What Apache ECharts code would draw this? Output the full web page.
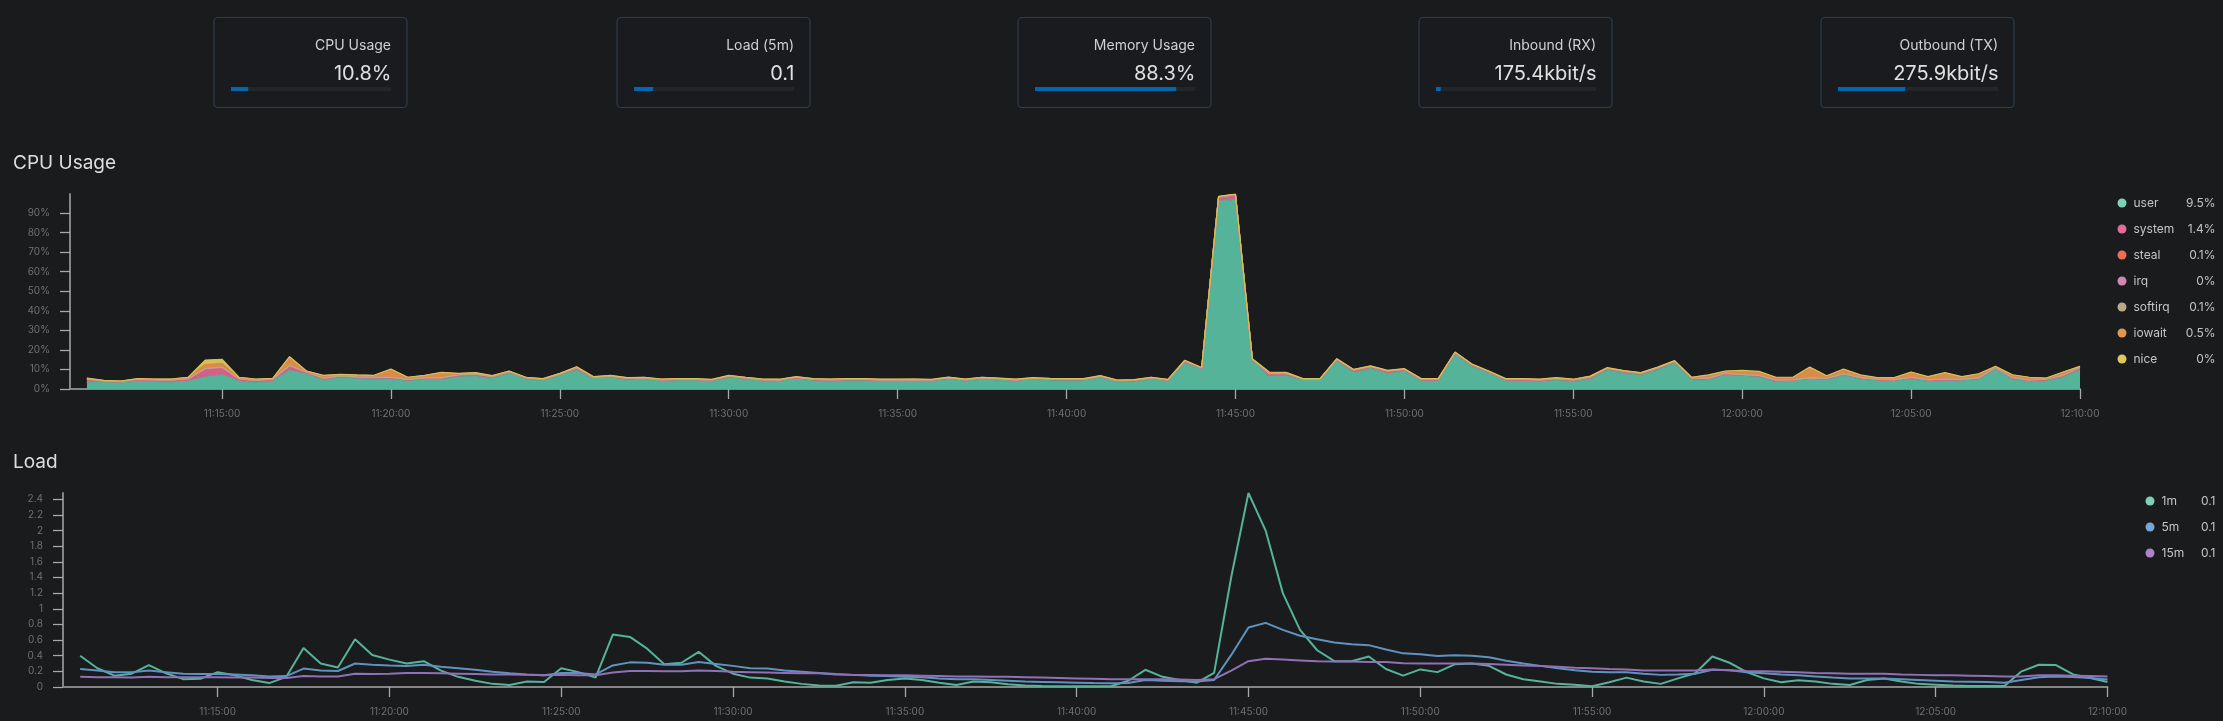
<!DOCTYPE html>
<html>
<head>
<meta charset="utf-8">
<title>Node overview</title>
<style>
  html, body { margin: 0; padding: 0; background: #191b1d; }
  #main { width: 2223px; height: 721px; }
</style>
<script src="https://cdn.jsdelivr.net/npm/echarts@6/dist/echarts.min.js"></script>
</head>
<body>
<div id="main"></div>
<script>
// stat cards
const cardTitles = ['CPU Usage', 'Load (5m)', 'Memory Usage', 'Inbound (RX)', 'Outbound (TX)'];
const cardValues = ['10.8%', '0.1', '88.3%', '175.4kbit/s', '275.9kbit/s'];
const cardFill = [0.108, 0.12, 0.883, 0.03, 0.42];

// axis ticks
const cpuTicks = [0, 10, 20, 30, 40, 50, 60, 70, 80, 90];
const loadTicks = [0, 0.2, 0.4, 0.6, 0.8, 1, 1.2, 1.4, 1.6, 1.8, 2, 2.2, 2.4];

// legend
const cpuNames = ['user', 'system', 'steal', 'irq', 'softirq', 'iowait', 'nice'];
const cpuLast = ['9.5%', '1.4%', '0.1%', '0%', '0.1%', '0.5%', '0%'];
const loadNames = ['1m', '5m', '15m'];
const loadLast = ['0.1', '0.1', '0.1'];

// cpu samples, one every 30s from 11:11:00
const userVals = [3.6,3.1,3.1,3.9,3.6,3.5,3.9,6.1,7.3,3.9,3.2,3.9,9.4,7.5,4.4,5.6,5.1,5,5.1,3.9,
  4.8,4.8,6.1,6.3,5.3,8,5,4.4,7,9.5,5.3,5.6,4.6,5,4.1,4.3,4.4,3.9,5.5,5,
  4,3.9,5.2,4.2,4,4.2,4.2,3.9,3.9,4,3.8,5,4,4.9,4.5,3.9,4.7,4.3,4.2,4.2,
  5.7,3.5,3.7,4.9,3.8,13.3,9.9,96,96.8,14.5,6.3,6.6,4.6,4.6,14.1,8.3,10.4,7.8,9,3.9,
  3.9,17.5,11.4,8,3.9,3.9,3.6,4.3,3.6,4.9,9.5,8,7,9.7,13.3,4.6,4.4,7,6.5,6,
  3.6,3.9,4.9,4.6,6.8,5,4.1,3.9,5.1,3.9,4.1,4.1,4.8,9.9,4.8,3.6,4.1,5.8,9.5];
const systemVals = [1.3,.8,.6,.9,1,1,1.2,4.2,3.7,1.2,1.1,1,2.4,1,1,.9,.9,.8,.7,.8,
  .8,.8,1,1.2,.9,.7,.5,.4,.5,1.2,.5,.8,.7,.5,.5,.5,.4,.5,1,.5,
  .6,.6,.6,.6,.6,.6,.6,.6,.6,.6,.6,.6,.6,.6,.6,.6,.6,.6,.6,.6,
  .6,.6,.6,.6,.6,.9,.6,2,2.4,.5,1.5,1.2,.3,.3,.9,1.2,.9,1.2,.9,.9,
  .9,.9,.9,.7,.9,.9,.9,.9,.9,1,.9,.9,.9,1,.7,.9,.9,.9,.8,.8,
  .8,.7,.7,.7,.8,.7,.7,.7,.7,.7,.7,.7,.7,.9,.9,.8,.8,1,1.4];
const stealVals = [.1,.1,.1,.1,.1,.1,.1,.1,.1,.1,.1,.1,.1,.1,.1,.1,.1,.1,.1,.1,
  .1,.1,.1,.1,.1,.1,.1,.1,.1,.1,.1,.1,.1,.1,.1,.1,.1,.1,.1,.1,
  .1,.1,.1,.1,.1,.1,.1,.1,.1,.1,.1,.1,.1,.1,.1,.1,.1,.1,.1,.1,
  .1,.1,.1,.1,.1,.1,.1,.1,.1,.1,.1,.1,.1,.1,.1,.1,.1,.1,.1,.1,
  .1,.1,.1,.1,.1,.1,.1,.1,.1,.1,.1,.1,.1,.1,.1,.1,.1,.1,.1,.1,
  .1,.1,.1,.1,.1,.1,.1,.1,.1,.1,.1,.1,.1,.1,.1,.1,.1,.1,.1];
const irqVals = [0,0,0,0,0,0,0,0,0,0,0,0,0,0,0,0,0,0,0,0,
  0,0,0,0,0,0,0,0,0,0,0,0,0,0,0,0,0,0,0,0,
  0,0,0,0,0,0,0,0,0,0,0,0,0,0,0,0,0,0,0,0,
  0,0,0,0,0,0,0,0,0,0,0,0,0,0,0,0,0,0,0,0,
  0,0,0,0,0,0,0,0,0,0,0,0,0,0,0,0,0,0,0,0,
  0,0,0,0,0,0,0,0,0,0,0,0,0,0,0,0,0,0,0];
const softirqVals = [.1,.1,.1,.1,.1,.1,.1,.1,.1,.1,.1,.1,.1,.1,.1,.1,.1,.1,.1,.1,
  .1,.1,.1,.1,.1,.1,.1,.1,.1,.1,.1,.1,.1,.1,.1,.1,.1,.1,.1,.1,
  .1,.1,.1,.1,.1,.1,.1,.1,.1,.1,.1,.1,.1,.1,.1,.1,.1,.1,.1,.1,
  .1,.1,.1,.1,.1,.1,.1,.1,.1,.1,.1,.1,.1,.1,.1,.1,.1,.1,.1,.1,
  .1,.1,.1,.1,.1,.1,.1,.1,.1,.1,.1,.1,.1,.1,.1,.1,.1,.1,.1,.1,
  .1,.1,.1,.1,.1,.1,.1,.1,.1,.1,.1,.1,.1,.1,.1,.1,.1,.1,.1];
const iowaitVals = [.3,.2,.1,.2,.2,.3,.6,2,1.8,.6,.4,.2,4.4,.4,1.3,.7,.9,.9,4.1,1,
  1.1,2.6,.6,.6,.3,.2,.2,.2,.2,.4,.2,.3,.2,.2,.2,.2,.2,.2,.2,.2,
  .2,.2,.2,.2,.2,.2,.2,.2,.2,.2,.2,.2,.2,.2,.2,.2,.2,.2,.2,.2,
  .2,.2,.2,.2,.2,.2,.2,.2,.2,.2,.5,.4,.1,.1,.2,.2,.2,.2,.2,.2,
  .2,.2,.2,.2,.2,.2,.2,.3,.2,.4,.2,.2,.2,.2,.2,.2,1.5,.9,1.7,1.7,
  1.2,1,5.2,1.1,2.2,1.1,.6,.8,2.5,1.3,3.2,1.1,1.9,.4,1.2,1.2,.3,1.5,.5];
const niceVals = [.2,.1,.1,.1,.1,.1,.1,2.3,2.2,.1,.2,.1,.1,.1,.1,.1,.1,.1,.1,.1,
  .1,.1,.1,.1,.1,.1,.1,.1,.1,.1,.1,.1,.1,.1,.1,.1,.1,.1,.1,.1,
  .1,.1,.1,.1,.1,.1,.1,.1,.1,.1,.1,.1,.1,.1,.1,.1,.1,.1,.1,.1,
  .1,.1,.1,.1,.1,.1,.1,.1,.1,.1,.2,.1,.1,.1,.1,.1,.1,.1,.1,.1,
  .1,.1,.1,.1,.1,.1,.1,.1,.1,.1,.1,.1,.1,.1,.1,.1,.2,.2,.3,.3,
  .2,.2,.2,.2,.2,.2,.2,.2,.2,.2,.2,.2,.2,.2,.2,.2,.2,.2,0];

// load samples, same timeline
const load1 = [.40,.24,.145,.17,.28,.175,.10,.105,.19,.15,.09,.05,.13,.50,.30,.25,.61,.41,.35,.30,
  .33,.21,.13,.08,.04,.025,.07,.065,.24,.19,.12,.67,.64,.49,.29,.31,.45,.27,.17,.12,
  .11,.07,.04,.02,.015,.06,.055,.09,.11,.09,.055,.025,.07,.06,.035,.02,.012,.01,.01,.01,
  .01,.08,.22,.13,.09,.055,.18,1.41,2.48,2.0,1.2,.73,.47,.33,.33,.39,.23,.145,.225,.19,
  .29,.30,.27,.16,.10,.07,.04,.03,.01,.06,.12,.07,.04,.11,.175,.39,.31,.19,.11,.06,
  .085,.07,.04,.025,.09,.11,.07,.04,.03,.02,.013,.013,.012,.20,.285,.28,.16,.115,.065];
const load5 = [.23,.21,.19,.19,.21,.19,.17,.165,.165,.16,.15,.135,.14,.235,.21,.205,.30,.285,.275,.27,
  .285,.26,.24,.22,.195,.175,.16,.15,.18,.18,.16,.275,.315,.31,.285,.285,.32,.295,.27,.24,
  .235,.21,.195,.18,.165,.155,.145,.14,.13,.125,.11,.10,.10,.09,.08,.07,.065,.06,.055,.05,
  .047,.05,.09,.08,.075,.07,.09,.41,.76,.82,.73,.655,.61,.57,.545,.535,.48,.43,.42,.395,
  .405,.40,.38,.335,.30,.27,.24,.215,.195,.19,.19,.17,.155,.16,.17,.22,.215,.19,.175,.16,
  .15,.135,.12,.11,.11,.11,.10,.09,.08,.07,.068,.064,.055,.09,.125,.135,.128,.115,.095];
const load15 = [.13,.125,.125,.12,.13,.125,.125,.125,.125,.12,.12,.115,.115,.14,.135,.135,.17,.165,.17,.18,
  .18,.175,.17,.165,.16,.16,.155,.15,.155,.15,.15,.185,.205,.205,.20,.20,.21,.205,.195,.19,
  .185,.18,.175,.175,.16,.155,.155,.15,.15,.145,.14,.135,.135,.13,.13,.125,.12,.115,.11,.105,
  .10,.10,.10,.10,.095,.09,.10,.21,.33,.36,.35,.34,.33,.325,.325,.32,.32,.305,.30,.30,
  .30,.30,.295,.285,.275,.27,.26,.245,.24,.23,.225,.21,.21,.21,.21,.225,.215,.205,.20,.195,
  .19,.18,.175,.17,.17,.17,.16,.155,.15,.15,.145,.14,.135,.135,.15,.15,.145,.14,.135];

// colours
const cpuColors = ['#54b399', '#d36086', '#e7664c', '#ca8eae', '#b9a888', '#da8b45', '#d6bf57'];
const cpuDots = ['#7dd1b6', '#e06d99', '#ee6d53', '#d486b0', '#baa88c', '#e3964f', '#e0c85f'];
const loadColors = ['#54b399', '#6092c0', '#9170b8'];
const loadDots = ['#7dd1b6', '#75a6d6', '#a984cc'];

// time axis: an empty slot at 11:10:30, then one label every 30s up to 12:10:00
const times = [];
for (let m = 10; m <= 70; m++) {
    for (const s of ['00', '30']) {
        const h = m >= 60 ? 12 : 11;
        const t = h + ':' + String(m % 60).padStart(2, '0') + ':' + s;
        if ((m === 10 && s === '00') || (m === 70 && s === '30')) continue;
        times.push(t);
    }
}

const FONT = 'Inter, "Noto Sans", sans-serif';
const isFiveMin = (i, v) => v.endsWith(':00') && Number(v.split(':')[1]) % 5 === 0;

function xAxis(gridIndex) {
    return {
        type: 'category',
        gridIndex: gridIndex,
        data: times,
        boundaryGap: false,
        axisLine: { lineStyle: { color: '#858585', width: 2 } },
        axisTick: { interval: isFiveMin, length: 10, lineStyle: { color: '#a8a8a8', width: 1.3 } },
        axisLabel: { interval: isFiveMin, margin: 20, color: '#6f7073', fontSize: 10, fontFamily: FONT, hideOverlap: false },
        splitLine: { show: false }
    };
}

function yAxis(gridIndex, ticks, format) {
    return {
        type: 'value',
        gridIndex: gridIndex,
        min: 0,
        max: 'dataMax',
        axisLine: { show: true, lineStyle: { color: '#858585', width: 2 } },
        axisTick: { show: true, customValues: ticks, length: 10, lineStyle: { color: '#a8a8a8', width: 1.3 } },
        axisLabel: { customValues: ticks, margin: 20, color: '#6f7073', fontSize: 10, fontFamily: FONT, formatter: format },
        splitLine: { show: false }
    };
}

function legend(names, dots, last, left, top, nameWidth, valueWidth) {
    return {
        orient: 'vertical',
        left: left,
        top: top,
        itemWidth: 13,
        itemHeight: 9,
        itemGap: 14,
        icon: 'circle',
        selectedMode: false,
        data: names.map((n, i) => ({ name: n, itemStyle: { color: dots[i] } })),
        formatter: n => '{n|' + n + '}{v|' + last[names.indexOf(n)] + '}',
        textStyle: {
            rich: {
                n: { width: nameWidth, align: 'left', color: '#c4c4c4', fontSize: 12, lineHeight: 13, fontFamily: FONT },
                v: { width: valueWidth, align: 'right', color: '#c4c4c4', fontSize: 12, lineHeight: 13, fontFamily: FONT }
            }
        }
    };
}

// cards are drawn with graphic elements
const cardLeft = [214, 617, 1018, 1419, 1821];
const cardGraphics = [];
cardTitles.forEach((title, i) => {
    const x = cardLeft[i];
    cardGraphics.push({
        type: 'rect', shape: { x: x, y: 17.5, width: 193, height: 90, r: 4 },
        style: { fill: '#191b1e', stroke: '#303c4d', lineWidth: 1.2 }
    });
    cardGraphics.push({
        type: 'rect', shape: { x: x + 17, y: 87, width: 160, height: 4 },
        style: { fill: '#232527' }
    });
    cardGraphics.push({
        type: 'rect', shape: { x: x + 17, y: 87, width: 160 * cardFill[i], height: 4 },
        style: { fill: '#0067b2' }
    });
    cardGraphics.push({
        type: 'text', x: x + 177, y: 46,
        style: { text: title, fill: '#d0d0d0', font: '14px ' + FONT, textAlign: 'right', textVerticalAlign: 'middle' }
    });
    cardGraphics.push({
        type: 'text', x: x + 177.5, y: 73.5,
        style: { text: cardValues[i], fill: '#e0e0e0', font: '20px ' + FONT, textAlign: 'right', textVerticalAlign: 'middle' }
    });
});

const cpuData = [userVals, systemVals, stealVals, irqVals, softirqVals, iowaitVals, niceVals];
const cpuSeries = cpuNames.map((name, i) => ({
    name: name,
    type: 'line',
    xAxisIndex: 0,
    yAxisIndex: 0,
    stack: 'cpu',
    showSymbol: false,
    data: [null].concat(cpuData[i]),
    lineStyle: { color: cpuColors[i], width: 1.2 },
    itemStyle: { color: cpuColors[i] },
    areaStyle: { color: cpuColors[i], opacity: 1 }
}));

const loadData = [load1, load5, load15];
const loadSeries = loadNames.map((name, i) => ({
    name: name,
    type: 'line',
    xAxisIndex: 1,
    yAxisIndex: 1,
    showSymbol: false,
    data: [null].concat(loadData[i]),
    lineStyle: { color: loadColors[i], width: 2 },
    itemStyle: { color: loadColors[i] }
}));

const chart = echarts.init(document.getElementById('main'));
chart.setOption({
    backgroundColor: '#191b1d',
    animation: false,
    title: [
        { text: 'CPU Usage', left: 13, top: 154, textStyle: { color: '#dedede', fontSize: 19, fontWeight: 400, fontFamily: FONT }, padding: 0 },
        { text: 'Load', left: 13, top: 453, textStyle: { color: '#dedede', fontSize: 19, fontWeight: 400, fontFamily: FONT }, padding: 0 }
    ],
    grid: [
        { left: 70, top: 194, width: 2010, height: 195 },
        { left: 63, top: 493, width: 2044.5, height: 194 }
    ],
    xAxis: [xAxis(0), xAxis(1)],
    yAxis: [yAxis(0, cpuTicks, '{value}%'), yAxis(1, loadTicks, '{value}')],
    legend: [
        legend(cpuNames, cpuDots, cpuLast, 2112.5, 192, 48, 34),
        legend(loadNames, loadDots, loadLast, 2140.5, 490, 28, 26)
    ],
    graphic: cardGraphics,
    series: cpuSeries.concat(loadSeries)
});
</script>
</body>
</html>
